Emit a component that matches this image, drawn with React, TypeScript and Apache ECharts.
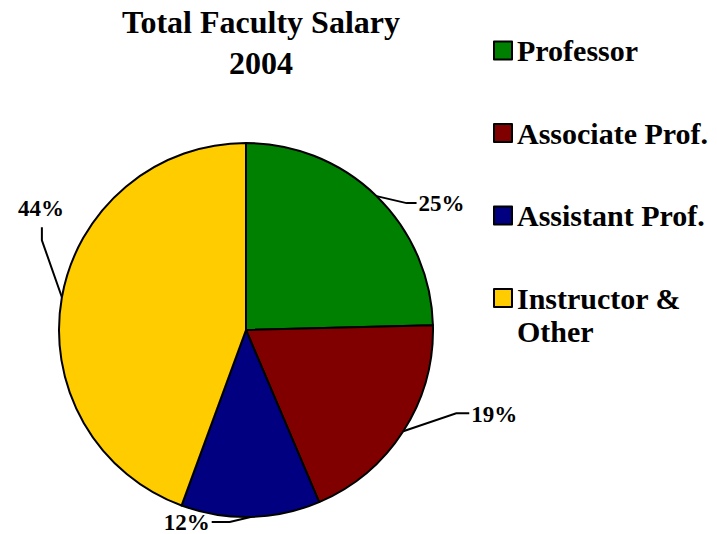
import React, { useEffect, useRef } from 'react';
import * as echarts from 'echarts';

// ---- data ----
const TITLE_LINES = ['Total Faculty Salary', '2004'];
const categories = ['Professor', 'Associate Prof.', 'Assistant Prof.', 'Instructor & Other'];
const shares = [24.6, 19.0, 12.0, 44.4];
const colors = ['#008000', '#800000', '#000080', '#FFCC00'];

// ---- layout / style ----
const FONT = "'Liberation Serif', 'Times New Roman', serif";
const CX = 246;
const CY = 330;
const R = 187;
const LEGEND_LEFT = 493;
const LEGEND_FIRST_CENTER = 50.5;
const LEGEND_STEP = 82.5;
const LEGEND_LH = 33;
// label placement relative to the slice's mid-angle point on the rim
const LABEL_OFFSETS = [
  { bend: [30, 7], end: [40, 7], text: [42, 7], align: 'left' },
  { bend: [53, -18], end: [66, -18], text: [68, -17], align: 'left' },
  { bend: [-21, 5], end: [-39, 5], text: [-41, 6], align: 'right' },
  { bend: [-20, -57], end: [-20, -70], text: [-21, -89], align: 'center' },
];

function rimPoints(): number[][] {
  const total = shares.reduce((a, b) => a + b, 0);
  let acc = 0;
  return shares.map((v) => {
    const mid = ((acc + v / 2) / total) * Math.PI * 2;
    acc += v;
    return [CX + R * Math.sin(mid), CY - R * Math.cos(mid)];
  });
}

export default function App() {
  const ref = useRef<HTMLDivElement>(null);

  useEffect(() => {
    if (!ref.current) return;
    const chart = echarts.init(ref.current, undefined, { renderer: 'svg' });
    const rims = rimPoints();

    const legends = categories.map((name, i) => {
      const multi = name.includes(' & ');
      const center = LEGEND_FIRST_CENTER + i * LEGEND_STEP;
      return {
        data: [name],
        orient: 'vertical',
        left: LEGEND_LEFT,
        top: multi ? center - 1.5 * LEGEND_LH : center - LEGEND_LH / 2,
        padding: 0,
        icon: 'rect',
        itemWidth: 18,
        itemHeight: 18,
        itemGap: 0,
        selectedMode: false,
        itemStyle: { borderColor: '#000', borderWidth: 2 },
        formatter: (n: string) => (n.includes(' & ') ? '\n' + n.replace(' & ', ' &\n') : n),
        textStyle: {
          fontFamily: FONT,
          fontSize: 30,
          fontWeight: 'bold',
          color: '#000',
          lineHeight: LEGEND_LH,
        },
      };
    });

    chart.setOption({
      animation: false,
      backgroundColor: '#fff',
      title: {
        text: TITLE_LINES.join('\n'),
        left: 261,
        top: 1,
        padding: 0,
        textAlign: 'center',
        textStyle: {
          fontFamily: FONT,
          fontSize: 32,
          fontWeight: 'bold',
          color: '#000',
          lineHeight: 41,
        },
      },
      legend: legends,
      series: [
        {
          type: 'pie',
          center: [CX, CY],
          radius: R,
          startAngle: 90,
          clockwise: true,
          avoidLabelOverlap: false,
          emphasis: { disabled: true },
          itemStyle: { borderColor: '#000', borderWidth: 2 },
          label: {
            show: true,
            position: 'outside',
            formatter: (p: any) => Math.round(p.percent) + '%',
            fontFamily: FONT,
            fontSize: 23,
            fontWeight: 'bold',
            color: '#000',
          },
          labelLine: {
            show: true,
            lineStyle: { color: '#000', width: 2 },
          },
          labelLayout: (params: any) => {
            const i = params.dataIndex;
            const o = LABEL_OFFSETS[i];
            const p = rims[i];
            return {
              x: p[0] + o.text[0],
              y: p[1] + o.text[1],
              align: o.align,
              verticalAlign: 'middle',
              labelLinePoints: [
                [p[0], p[1]],
                [p[0] + o.bend[0], p[1] + o.bend[1]],
                [p[0] + o.end[0], p[1] + o.end[1]],
              ],
            };
          },
          data: categories.map((name, i) => ({
            name,
            value: shares[i],
            itemStyle: { color: colors[i] },
          })),
        },
      ],
    });

    return () => chart.dispose();
  }, []);

  return (
    <div
      ref={ref}
      style={{ position: 'absolute', left: 0, top: 0, width: 717, height: 534 }}
    />
  );
}
